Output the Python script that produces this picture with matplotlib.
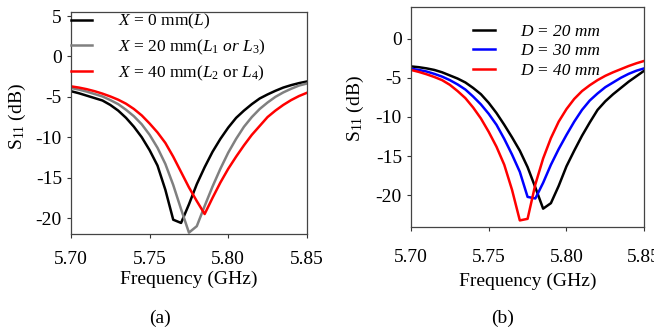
import numpy as np
import matplotlib
matplotlib.use("Agg")
import matplotlib.pyplot as plt

plt.rcParams['font.family'] = ['Liberation Serif', 'DejaVu Serif']
plt.rcParams['mathtext.fontset'] = 'custom'
plt.rcParams['mathtext.rm'] = 'Liberation Serif'
plt.rcParams['mathtext.it'] = 'Liberation Serif:italic'
plt.rcParams['axes.unicode_minus'] = False

# frequency grid (GHz), 5 MHz step
freq = np.linspace(5.70, 5.85, 31)

# (a) feed position X
s11_x0 = [-4.3, -4.55, -4.85, -5.15, -5.45, -6.0, -6.7, -7.6, -8.7, -10.0, -11.6,
          -13.5, -16.5, -20.2, -20.6, -18.3, -15.8, -13.7, -11.8, -10.2, -8.8,
          -7.6, -6.7, -5.9, -5.2, -4.7, -4.25, -3.85, -3.55, -3.3, -3.1]
s11_x20 = [-3.9, -4.1, -4.35, -4.65, -4.95, -5.4, -5.9, -6.6, -7.4, -8.4, -9.7,
           -11.3, -13.3, -15.9, -18.9, -21.8, -21.0, -18.5, -16.1, -13.9, -11.9,
           -10.2, -8.7, -7.5, -6.5, -5.7, -5.0, -4.45, -4.0, -3.6, -3.35]
s11_x40 = [-3.7, -3.85, -4.05, -4.3, -4.6, -4.95, -5.35, -5.85, -6.5, -7.3, -8.3,
           -9.4, -10.7, -12.4, -14.3, -16.2, -17.9, -19.5, -17.5, -15.6, -13.9,
           -12.4, -11.0, -9.7, -8.6, -7.5, -6.7, -6.0, -5.4, -4.9, -4.5]

# (b) spacing D
s11_d20 = [-3.55, -3.65, -3.8, -4.0, -4.3, -4.7, -5.1, -5.6, -6.3, -7.1, -8.2,
           -9.5, -11.0, -12.6, -14.3, -16.4, -19.0, -21.7, -21.0, -18.8, -16.3,
           -14.3, -12.4, -10.7, -9.1, -8.0, -7.1, -6.3, -5.5, -4.8, -4.1]
s11_d30 = [-3.85, -4.0, -4.2, -4.5, -4.85, -5.3, -5.85, -6.5, -7.4, -8.4, -9.6,
           -11.0, -12.8, -14.8, -17.0, -20.2, -20.4, -18.4, -16.1, -14.1, -12.3,
           -10.6, -9.1, -7.9, -7.0, -6.2, -5.6, -5.0, -4.5, -4.1, -3.8]
s11_d40 = [-4.0, -4.25, -4.55, -4.9, -5.3, -5.9, -6.7, -7.6, -8.8, -10.2, -11.9,
           -13.8, -16.1, -19.3, -23.2, -23.0, -18.6, -15.3, -12.7, -10.6, -9.0,
           -7.7, -6.7, -5.95, -5.3, -4.75, -4.3, -3.9, -3.5, -3.15, -2.85]

labels_a = ['$X$ = 0 mm($L$)',
            '$X$ = 20 mm($L_\\mathit{1}$ $\\mathit{or}$ $L_\\mathit{3}$)',
            '$X$ = 40 mm($L_\\mathit{2}$ or $L_\\mathit{4}$)']
labels_b = ['D = 20 mm', 'D = 30 mm', 'D = 40 mm']
xticks = [5.70, 5.75, 5.80, 5.85]

fig = plt.figure(figsize=(6.54, 3.29), dpi=100)
ax1 = fig.add_axes([0.1086, 0.288, 0.3606, 0.6755])
ax2 = fig.add_axes([0.6284, 0.311, 0.3566, 0.667])

lw = 1.8
ax1.plot(freq, s11_x0, color='black', lw=lw, label=labels_a[0])
ax1.plot(freq, s11_x20, color='#808080', lw=lw, label=labels_a[1])
ax1.plot(freq, s11_x40, color='red', lw=lw, label=labels_a[2])

ax2.plot(freq, s11_d20, color='black', lw=lw, label=labels_b[0])
ax2.plot(freq, s11_d30, color='blue', lw=lw, label=labels_b[1])
ax2.plot(freq, s11_d40, color='red', lw=lw, label=labels_b[2])

ax1.set_ylim(-22, 5.5)
ax1.set_yticks([5, 0, -5, -10, -15, -20])
ax2.set_ylim(-24, 4)
ax2.set_yticks([0, -5, -10, -15, -20])

for ax in (ax1, ax2):
    ax.set_xlim(5.70, 5.85)
    ax.set_xticks(xticks)
    ax.set_xticklabels(['%.2f' % t for t in xticks])
    ax.tick_params(direction='out', length=3, width=0.8, labelsize=14,
                   top=False, right=False, color='#333333')
    for s in ax.spines.values():
        s.set_color('#444444')
        s.set_linewidth(0.9)
    ax.set_xlabel('Frequency (GHz)', fontsize=14)
    ax.set_ylabel('S$_{11}$ (dB)', fontsize=14)

ax1.tick_params(axis='x', pad=9)
ax2.tick_params(axis='x', pad=13)
ax1.xaxis.set_label_coords(0.5, -0.164)
ax2.xaxis.set_label_coords(0.5, -0.209)
ax1.yaxis.set_label_coords(-0.183, 0.53)
ax2.yaxis.set_label_coords(-0.193, 0.54)

ax1.legend(loc='upper left', bbox_to_anchor=(0, 1), frameon=False,
           borderpad=0, borderaxespad=0, handlelength=1.2, handletextpad=1.5,
           labelspacing=0.38, prop={'size': 12.5})
ax2.legend(loc='upper left', bbox_to_anchor=(0.266, 0.926), frameon=False,
           borderpad=0, borderaxespad=0, handlelength=1.25, handletextpad=1.45,
           labelspacing=0.2, prop={'size': 12.5, 'style': 'italic'})

fig.text(160 / 654, 1 - 318 / 329, '(a)', ha='center', va='center', fontsize=14)
fig.text(503 / 654, 1 - 318.5 / 329, '(b)', ha='center', va='center', fontsize=14)

fig.savefig('out.png', dpi=100)
